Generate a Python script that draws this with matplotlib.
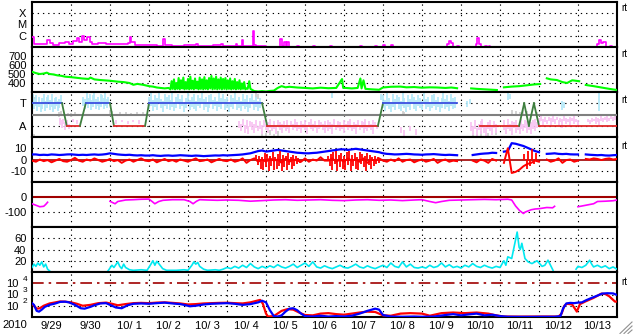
import numpy as np
import matplotlib
matplotlib.use('Agg')
import matplotlib.pyplot as plt
from matplotlib.lines import Line2D

plt.rcParams['font.family'] = ['Liberation Sans', 'DejaVu Sans']
plt.rcParams['font.size'] = 8

nan = np.nan
TS, AS = 2.0, 0.0   # sector levels: Toward / Away

# time axis: days since 2010-09-29 00 UT
day_labels = ['9/29', '9/30', '10/ 1', '10/ 2', '10/ 3', '10/ 4', '10/ 5', '10/ 6',
              '10/ 7', '10/ 8', '10/ 9', '10/10', '10/11', '10/12', '10/13']

# GOES x-ray flux (W/m2)
xray_t = [0.00, 0.05, 0.15, 0.25, 0.38, 0.45, 0.55, 0.70, 0.85, 0.95, 1.05, 1.15, 1.20, 1.28, 1.33,
          1.40, 1.48, 1.55, 1.70, 1.90, 2.10, 2.30, 2.45, 2.50, 2.55, 2.65, 2.80, 3.00, 3.20, 3.35,
          3.40, 3.60, 3.90, 4.20, 4.25, 4.50, 4.65, 4.85, 4.90, 5.00, 5.22, 5.25, 5.38, 5.42, 5.67,
          5.70, 5.75, 6.00, 6.35, 6.40, 6.45, 6.52, 6.55, 6.60, 6.80, 6.85, 7.20, 7.25, 7.50, 7.65,
          7.70, 7.80, 8.40, 8.45, 8.80, 8.85, 9.00, 9.05, 9.20, 9.25, 9.40, 10.65, 10.70, 10.75,
          10.80, 10.90, 10.95, 11.38, 11.42, 11.47, 11.50, 11.62, 11.66, 11.72, 11.75, 14.15, 14.20,
          14.48, 14.55, 14.60, 14.65, 14.72, 14.82, 14.86, 15.00]
xray_f = [8e-7, 2e-7, 1.8e-7, 2e-7, 4.5e-7, 2.2e-7, 1.6e-7, 2.5e-7, 3e-7, 2e-7, 3.5e-7, 6e-7, 3e-7,
          9e-7, 4e-7, 7e-7, 3e-7, 2e-7, 2.2e-7, 1.8e-7, 2e-7, 1.9e-7, 2.5e-7, 7e-7, 3e-7, 1.5e-7,
          1.4e-7, 1.5e-7, 1.3e-7, 5e-7, 1.4e-7, 1.3e-7, 1.4e-7, 2e-7, 1.3e-7, 1.2e-7, 1.4e-7,
          1.7e-7, 1.3e-7, 1.2e-7, 2e-7, 1.2e-7, 4e-7, 1.3e-7, 2.6e-6, 1.5e-7, 1.2e-7, 1.1e-7, 5e-7,
          1.2e-7, 3e-7, 1.3e-7, 3e-7, 1.1e-7, 1.3e-7, 1.1e-7, 1.2e-7, 1.05e-7, 1.05e-7, 1.2e-7,
          1.0e-7, 1.0e-7, 1.2e-7, 1.0e-7, 1.3e-7, 1.0e-7, 1.5e-7, 1.0e-7, 1.5e-7, 9e-8, 7e-8,
          2e-7, 3.4e-7, 2.2e-7, 7e-8, 1.3e-7, 7e-8, 2e-7, 6.5e-7, 2e-7, 7e-8, 1.3e-7, 7e-8, 1.3e-7,
          7e-8, 1.1e-7, 7e-8, 2e-7, 4e-7, 2.5e-7, 3e-7, 7e-8, 1.3e-7, 7e-8, 7e-8]

# solar wind speed (km/s)
wind_t = [0.0, 0.1, 0.2, 0.3, 0.38, 0.45, 0.55, 0.65, 0.75, 0.85, 1.0, 1.1, 1.2, 1.3, 1.45, 1.5, 1.6,
          1.75, 1.9, 2.0, 2.2, 2.35, 2.5, 2.6, 2.7, 2.85, 3.0, 3.1, 3.2, 3.3, 3.4, 3.5,
          3.55, 3.58, 3.61, 3.64, 3.67, 3.70, 3.73, 3.76, 3.79, 3.82, 3.85, 3.88, 3.91, 3.94, 3.97,
          4.00, 4.03, 4.06, 4.09, 4.12, 4.15, 4.18, 4.21, 4.24, 4.27, 4.30, 4.33, 4.36, 4.39, 4.42,
          4.45, 4.48, 4.51, 4.54, 4.57, 4.60, 4.63, 4.66, 4.69, 4.72, 4.75, 4.78, 4.81, 4.84, 4.87,
          4.90, 4.93, 4.96, 4.99, 5.02, 5.05, 5.08, 5.11, 5.14, 5.17, 5.20, 5.23, 5.26, 5.29, 5.32,
          5.35, 5.38, 5.41, 5.44, 5.47, 5.50, 5.53, 5.57, 5.60,
          5.7, 5.8, 5.9, 6.0, 6.1, 6.2, 6.3, 6.4, 6.5, 6.6, 6.8, 7.0, 7.2, 7.4, 7.6, 7.8, 7.95, 7.98,
          8.05, 8.2, 8.35, 8.42, 8.45, 8.5, 8.55, 8.7, 8.9, 9.0, 9.2, 9.45, 9.6, 9.8, 10.0, 10.2,
          10.4, 10.6, 10.75, 10.9, 10.95,
          11.26, 11.4, 11.6, 11.8, 11.92, 11.95,
          12.1, 12.3, 12.5, 12.7, 12.9, 13.03, 13.1,
          13.2, 13.3, 13.46, 13.6, 13.72, 13.85, 14.03, 14.1,
          14.2, 14.4, 14.6, 14.8, 15.0]
wind_v = [525, 510, 500, 505, 515, 500, 495, 485, 480, 470, 465, 460, 455, 450, 445, 460, 440,
          433, 428, 425, 415, 410, 400, 380, 390, 380, 365, 360, 350, 345, 340, 345,
          330, 420, 335, 440, 330, 400, 335, 455, 330, 430, 340, 460, 330, 410, 335,
          445, 330, 470, 335, 425, 330, 450, 340, 415, 330, 460, 335, 440, 330, 465,
          335, 430, 330, 455, 340, 478, 330, 450, 335, 470, 330, 440, 335, 460, 330,
          445, 335, 455, 330, 430, 335, 450, 330, 420, 335, 445, 330, 410, 335, 430,
          330, 395, 335, 410, 330, 340, 335, 420, 335,
          310, 305, 310, 305, 312, 315, 345, 365, 352, 358, 350, 345, 340, 348, 342, 345, 444, 345,
          345, 340, 345, 450, 340, 430, 335, 330, 325, 350, 358, 360, 352, 355, 348, 352,
          350, 345, 350, 342, nan,
          340, 335, 330, 325, 322, nan,
          352, 360, 365, 375, 385, 389, nan,
          452, 440, 433, 410, 400, 430, 420, nan,
          378, 365, 350, 335, 322]

# sector model (T/A) and observed polarity scatter
sector_t = [0, 0.77, 0.89, 1.23, 1.38, 2.0, 2.10, 2.90, 3.0, 5.90, 6.03, 8.87, 9.0, 10.9, nan,
            11.49, 12.49, 12.62, 12.74, 12.87, 13.0, 15.0]
sector_v = [TS, TS, AS, AS, TS, TS, AS, AS, TS, TS, AS, AS, TS, TS, nan,
            AS, AS, TS, AS, TS, AS, AS]

cyan_streaks = [
    (0.02, 2.0, 2.8), (0.06, 1.5, 2.4), (0.10, 1.8, 2.7), (0.14, 1.3, 2.1), (0.18, 1.7, 2.6),
    (0.22, 1.2, 1.9), (0.26, 1.5, 2.5), (0.30, 1.9, 2.8), (0.34, 1.3, 2.2), (0.38, 1.6, 2.6),
    (0.42, 2.0, 2.7), (0.46, 1.4, 2.3), (0.50, 1.7, 2.8), (0.54, 1.2, 2.0), (0.58, 1.5, 2.5),
    (0.62, 1.8, 2.6), (0.66, 1.3, 2.2), (0.70, 1.6, 2.4), (0.74, 1.9, 2.7),
    (1.32, 1.8, 2.6), (1.36, 1.5, 2.4), (1.40, 2.0, 2.9), (1.44, 1.6, 2.5), (1.48, 1.9, 2.8),
    (1.52, 1.4, 2.3), (1.56, 1.7, 2.7), (1.60, 2.1, 2.9), (1.64, 1.5, 2.4), (1.68, 1.8, 2.6),
    (1.72, 1.4, 2.2), (1.76, 1.7, 2.8), (1.80, 2.0, 2.7), (1.84, 1.5, 2.5), (1.88, 1.8, 2.9),
    (1.92, 1.6, 2.4), (1.96, 1.9, 2.6),
    (3.00, 1.5, 2.6), (3.05, 1.8, 2.9), (3.10, 1.3, 2.3), (3.15, 1.7, 2.7), (3.20, 1.4, 2.5),
    (3.25, 2.0, 2.9), (3.30, 1.6, 2.4), (3.35, 1.2, 2.2), (3.40, 1.8, 2.8), (3.45, 1.5, 2.6),
    (3.50, 1.9, 2.7), (3.55, 1.4, 2.3), (3.60, 1.7, 2.9), (3.65, 1.3, 2.1), (3.70, 1.6, 2.6),
    (3.75, 2.0, 2.8), (3.80, 1.5, 2.4), (3.85, 1.8, 2.7), (3.90, 1.2, 2.0), (3.95, 1.6, 2.5),
    (4.00, 1.9, 2.9), (4.05, 1.4, 2.3), (4.10, 1.7, 2.6), (4.15, 1.5, 2.8), (4.20, 1.3, 2.2),
    (4.25, 1.8, 2.7), (4.30, 1.6, 2.5), (4.35, 2.0, 2.9), (4.40, 1.4, 2.4), (4.45, 1.7, 2.6),
    (4.50, 1.2, 2.1), (4.55, 1.6, 2.7), (4.60, 1.9, 2.8), (4.65, 1.5, 2.3), (4.70, 1.8, 2.6),
    (4.75, 1.3, 2.2), (4.80, 1.7, 2.9), (4.85, 1.5, 2.5), (4.90, 2.0, 2.8), (4.95, 1.4, 2.4),
    (5.00, 1.6, 2.6), (5.05, 1.2, 2.0), (5.10, 1.7, 2.7), (5.15, 1.5, 2.5), (5.20, 1.9, 2.9),
    (5.25, 1.4, 2.3), (5.30, 1.6, 2.6), (5.35, 1.3, 2.2), (5.40, 1.8, 2.8), (5.45, 1.5, 2.4),
    (5.50, 1.7, 2.7), (5.55, 1.2, 2.1), (5.60, 1.6, 2.5), (5.65, 1.9, 2.8), (5.70, 1.4, 2.3),
    (5.75, 1.7, 2.6), (5.80, 1.3, 2.2), (5.85, 1.6, 2.5),
    (7.70, 2.5, 2.9), (8.95, 2.3, 2.8),
    (9.00, 1.6, 2.7), (9.05, 1.3, 2.3), (9.10, 1.8, 2.9), (9.15, 1.5, 2.5), (9.20, 1.2, 2.1),
    (9.25, 1.7, 2.8), (9.30, 1.4, 2.4), (9.35, 1.9, 2.7), (9.40, 1.5, 2.6), (9.45, 1.3, 2.2),
    (9.50, 1.8, 2.9), (9.55, 1.6, 2.5), (9.60, 1.2, 2.0), (9.65, 1.7, 2.7), (9.70, 1.4, 2.4),
    (9.75, 2.0, 2.8), (9.80, 1.5, 2.6), (9.85, 1.3, 2.3), (9.90, 1.8, 2.7), (9.95, 1.6, 2.5),
    (10.00, 1.4, 2.2), (10.05, 1.9, 2.9), (10.10, 1.5, 2.4), (10.15, 1.7, 2.6), (10.20, 1.3, 2.1),
    (10.25, 1.6, 2.7), (10.30, 1.8, 2.8), (10.35, 1.4, 2.3), (10.40, 1.7, 2.6), (10.45, 1.2, 2.0),
    (10.50, 1.6, 2.5), (10.55, 1.9, 2.9), (10.60, 1.5, 2.4), (10.65, 1.7, 2.7), (10.70, 1.3, 2.2),
    (10.75, 1.8, 2.8), (10.80, 1.5, 2.5), (10.85, 1.6, 2.6),
    (11.15, 1.7, 2.2), (11.22, 1.9, 2.4), (12.20, 2.3, 2.9), (12.25, 2.4, 2.8),
    (13.58, 1.4, 2.2), (13.65, 1.6, 2.1), (14.55, 1.3, 2.9)]

pink_streaks = [
    (0.72, 0.1, 0.7), (0.76, -0.2, 0.5), (0.80, 0.2, 0.6), (0.85, -0.4, 0.3), (0.90, 0.0, 0.5),
    (0.95, -0.3, 0.2), (1.05, 0.3, 0.6), (1.15, 0.2, 0.5),
    (2.15, 0.2, 0.5), (2.30, 0.3, 0.5), (2.45, 0.2, 0.4), (2.60, 0.3, 0.5), (2.75, 0.2, 0.5),
    (5.30, -0.2, 0.4), (5.35, -0.5, 0.2), (5.40, 0.0, 0.6), (5.45, -0.6, 0.1), (5.50, -0.3, 0.5),
    (5.55, -0.7, 0.0), (5.60, -0.1, 0.4), (5.65, -0.4, 0.3), (5.70, -0.6, 0.2), (5.75, -0.2, 0.5),
    (5.80, -0.5, 0.0), (5.85, -0.3, 0.4), (5.90, -0.7, 0.1), (5.95, -0.1, 0.5), (6.00, -0.4, 0.2),
    (6.05, -0.6, 0.3), (6.10, -0.2, 0.6), (6.15, -0.5, 0.1), (6.20, -0.3, 0.4), (6.25, -0.7, 0.0),
    (6.30, -0.1, 0.5), (6.35, -0.4, 0.3), (6.40, -0.6, 0.2), (6.45, -0.2, 0.4), (6.50, -0.5, 0.1),
    (6.55, -0.3, 0.5), (6.60, -0.6, 0.0), (6.65, -0.1, 0.4), (6.70, -0.4, 0.2), (6.75, -0.2, 0.6),
    (6.80, -0.5, 0.3), (6.85, -0.3, 0.1), (6.90, -0.6, 0.4), (6.95, -0.2, 0.2), (7.00, -0.4, 0.5),
    (7.05, -0.7, 0.1), (7.10, -0.1, 0.3), (7.15, -0.3, 0.6), (7.20, -0.5, 0.2), (7.25, -0.2, 0.4),
    (7.30, -0.6, 0.0), (7.35, -0.3, 0.5), (7.40, -0.1, 0.3), (7.45, -0.4, 0.2), (7.50, -0.6, 0.4),
    (7.55, -0.2, 0.1), (7.60, -0.5, 0.5), (7.65, -0.3, 0.3), (7.70, -0.7, 0.2), (7.75, -0.1, 0.6),
    (7.80, -0.4, 0.1), (7.85, -0.2, 0.4), (7.90, -0.5, 0.3), (7.95, -0.3, 0.0), (8.00, -0.6, 0.5),
    (8.05, -0.1, 0.2), (8.10, -0.4, 0.4), (8.15, -0.2, 0.6), (8.20, -0.5, 0.1), (8.25, -0.3, 0.3),
    (8.30, -0.7, 0.2), (8.35, -0.1, 0.5), (8.40, -0.4, 0.0), (8.45, -0.2, 0.4), (8.50, -0.6, 0.3),
    (8.55, -0.3, 0.6), (8.60, -0.5, 0.1), (8.65, -0.2, 0.4), (8.70, -0.4, 0.2), (8.75, -0.7, 0.5),
    (8.80, -0.1, 0.3), (8.85, -0.3, 0.1),
    (9.45, -0.6, -0.1), (9.55, -0.9, -0.4), (9.70, -0.5, 0.0), (9.85, -0.8, -0.3),
    (11.25, -0.5, 0.3), (11.30, -0.8, 0.0), (11.35, -0.3, 0.5), (11.40, -0.9, -0.2),
    (11.45, -0.4, 0.2), (11.50, -0.7, 0.4), (11.55, -0.2, 0.6), (11.60, -0.6, 0.1),
    (11.65, -0.9, -0.1), (11.70, -0.3, 0.3), (11.75, -0.5, 0.5), (11.80, -0.8, 0.0),
    (11.85, -0.2, 0.4), (11.90, -0.6, 0.2), (12.10, -0.4, 0.5), (12.15, -0.7, 0.1),
    (12.20, -0.3, 0.6), (12.25, -0.5, 0.2), (12.30, -0.8, 0.4), (12.35, -0.2, 0.3),
    (12.40, -0.6, 0.5), (12.45, -0.4, 0.1), (12.50, -0.7, 0.3), (12.55, -0.3, 0.6),
    (12.60, -0.5, 0.2), (12.65, -0.2, 0.5), (12.70, -0.6, 0.4), (12.75, -0.4, 0.1),
    (12.80, -0.7, 0.3), (12.85, -0.3, 0.5), (12.90, -0.5, 0.6), (12.95, -0.2, 0.3),
    (13.00, 0.2, 0.7), (13.05, 0.4, 0.9), (13.10, 0.1, 0.6), (13.15, 0.3, 0.8), (13.20, 0.2, 0.5),
    (13.25, 0.4, 0.8), (13.30, 0.1, 0.7), (13.35, 0.3, 0.9), (13.40, 0.2, 0.6), (13.45, 0.5, 0.8),
    (13.50, 0.1, 0.5), (13.55, 0.3, 0.7), (13.60, -0.2, 0.6), (13.65, 0.4, 0.9), (13.70, 0.2, 0.7),
    (13.75, 0.3, 0.6), (13.80, 0.1, 0.8), (13.85, 0.4, 0.7), (13.90, 0.2, 0.9), (13.95, 0.3, 0.6),
    (14.00, 0.1, 0.5), (14.25, 0.3, 0.6), (14.30, 0.2, 0.5), (14.35, 0.3, 0.7), (14.40, 0.4, 0.6),
    (14.45, 0.2, 0.8), (14.50, 0.3, 0.7), (14.55, 0.1, 0.6), (14.60, 0.4, 0.9), (14.65, 0.3, 0.7),
    (14.70, 0.5, 0.8), (14.75, 0.3, 0.9), (14.80, 0.4, 0.7), (14.85, 0.6, 0.9), (14.90, 0.4, 0.8),
    (14.95, 0.5, 0.9)]

grey_streaks = [
    (0.02, 2.3, 2.7), (0.05, -1.0, -0.7), (0.08, 2.4, 2.6), (0.68, 0.8, 1.2), (0.74, 0.9, 1.3),
    (0.92, 0.9, 1.1), (1.00, 0.8, 1.1), (1.10, 0.9, 1.2), (1.20, 0.85, 1.05), (2.00, 1.0, 1.4),
    (2.05, 1.1, 1.3), (2.25, 0.9, 1.2), (2.40, 1.0, 1.25), (2.55, 0.9, 1.15), (2.70, 1.0, 1.2),
    (2.85, 0.95, 1.2), (5.75, 2.5, 2.9), (5.80, 2.4, 2.8), (5.90, -0.9, -0.5), (6.00, -1.0, -0.6),
    (6.10, -0.8, -0.4), (6.20, -1.0, -0.7), (6.30, -0.9, -0.5), (9.50, 0.9, 1.3), (9.55, 1.0, 1.2),
    (11.30, -1.0, -0.6), (11.40, -1.0, -0.7), (11.50, -0.9, -0.5), (11.70, -1.0, -0.6),
    (11.90, -0.8, -0.4), (12.30, 0.9, 1.4), (12.40, 1.0, 1.3), (12.50, 0.9, 1.2), (12.60, 1.0, 1.4),
    (12.70, 0.95, 1.3), (12.95, 0.8, 1.2)]

# IMF: sampled every 0.1 day
imf_dt = 0.1
bt = [4.5, 4.5, 4.0, 4.2, 4.0, 4.5, 4.3, 4.0, 4.2, 4.5,
      4.6, 4.3, 4.0, 4.2, 4.0, 4.3, 4.5, 4.2, 4.4, 4.8,
      5.5, 5.0, 4.5, 4.2, 4.0, 4.2, 3.8, 3.6, 3.8, 3.5,
      3.5, 3.8, 3.4, 3.2, 3.5, 3.6, 3.3, 3.5, 3.8, 3.6,
      3.4, 3.2, 3.5, 3.3, 3.0, 3.2, 3.4, 3.6, 3.5, 3.8,
      3.6, 3.8, 4.0, 4.2, 4.5, 5.0, 5.5, 6.5, 7.5, 8.0,
      7.0, 7.5, 8.0, 8.5, 8.0, 7.5, 7.0, 6.5, 6.0, 5.8,
      5.5, 5.5, 5.8, 6.0, 6.5, 7.0, 7.5, 8.0, 8.5, 9.0,
      9.0, 8.5, 9.0, 9.5, 9.0, 8.5, 8.0, 7.5, 7.0, 6.5,
      5.5, 5.0, 4.8, 4.5, 4.6, 4.8, 5.0, 4.8, 4.5, 4.4,
      4.2, 4.5, 4.6, 4.8, 4.5, 4.2, 4.0, 4.2, 4.0, 3.8,
      nan, nan, nan, 4.0, 4.5, 5.0, 5.3, 5.5, 6.0, 5.8,
      nan, 7.0, 7.5, 14.5, 14.0, 13.0, 12.0, 10.5, 9.0, 7.5,
      6.5, nan, 5.0, 5.2, 5.5, 5.0, 4.8, 5.0, 4.6, 4.5,
      4.5, nan, 4.5, 4.2, 4.0, 3.8, 4.0, 3.6, 3.5, 3.8, 4.0]
bz = [-1, -2, 0, -1.5, -0.5, -2.5, -1, 0.5, -1.5, -2,
      -0.5, 1.5, -1, -2, 0, -1, 1, -0.5, -2, -1,
      0.5, -1.5, -0.5, -3, -1, 0, -2, -0.5, 1, -1,
      -1.5, 0, -2.5, -1, 0.5, -1.5, -0.5, -2, 0, -1,
      -2, -0.5, 1, -1.5, -1, 0, -2.5, -1, 0.5, -1,
      -1.5, 0, -2, -1, 1, -3, -0.5, 1, -2, 0,
      -2, 1, -1, 0, -3, 1, -2, 0, -1, -2,
      1, -2, 0, -1, 2, -1, -1, 1, -2, 0,
      -2, 1, -1, 0, -2, 1, -3, 0, -1, 1,
      -1, -2, 0, -1.5, 1, -2, -0.5, 0, -2.5, -1,
      0, -2, -1, 0.5, -3, -1, 0, -2, -1, -1.5,
      nan, nan, nan, -1, -2.5, 0, -1, -3, 0.5, -1,
      nan, -3, 10, -12, -11, -9, -6, -4, -3, -1,
      -2, nan, 0, -2, -1, 1, -3, -0.5, 0, -2,
      -1, nan, 0.5, 0, 1, 0.5, -0.5, 0.5, 1, 0, 0.5]
# short Bz excursions during the disturbed intervals
bz_spike_t = [5.75, 5.80, 5.83, 5.87, 5.90, 5.93, 5.97, 6.00, 6.03, 6.07, 6.10, 6.13, 6.17, 6.20,
              6.23, 6.27, 6.30, 6.33, 6.37, 6.40, 6.43, 6.47, 6.50, 6.53, 6.57, 6.60, 6.63, 6.67,
              6.70, 6.73, 6.77, 6.80, 6.83, 6.87,
              7.60, 7.63, 7.67, 7.70, 7.73, 7.77, 7.80, 7.83, 7.87, 7.90, 7.93, 7.97, 8.00, 8.03,
              8.07, 8.10, 8.13, 8.17, 8.20, 8.23, 8.27, 8.30, 8.33, 8.37, 8.40, 8.43, 8.47, 8.50,
              8.53, 8.57, 8.60, 8.63, 8.67, 8.70, 8.73, 8.77, 8.80, 8.83, 8.87, 8.90,
              12.62, 12.68, 12.72, 12.78, 12.83, 12.88, 12.93]
bz_spike_v = [4, -5, 3, -8, 2, -9, 6, -7, 5, -10, 3, -6, 7, -9,
              2, -8, 5, -6, 8, -10, 4, -7, 3, -9, 6, -5, 2, -8,
              4, -6, 3, -4, 1, -3,
              3, -6, 5, -9, 7, -4, 8, -10, 4, -7, 6, -8, 3, -9,
              7, -5, 8, -10, 4, -6, 6, -8, 2, -9, 7, -4, 5, -7,
              3, -10, 6, -5, 4, -8, 2, -6, 3, -4, 2, -3,
              5, -8, 8, -6, 9, -4, 6]

# Dst (nT)
dst_t = [0.0, 0.1, 0.2, 0.3, 0.35, 0.4, 0.42, 2.0, 2.13, 2.2, 2.4, 2.6, 2.8, 3.0, 3.08, 3.15, 3.25,
         3.36, 3.6, 3.9, 4.05, 4.13, 4.22, 4.3, 4.5, 4.75, 5.0, 5.3, 5.6, 5.9, 6.2, 6.5, 6.8, 7.1,
         7.4, 7.7, 8.0, 8.3, 8.6, 8.9, 9.2, 9.5, 9.8, 10.0, 10.2, 10.35, 10.5, 10.7, 11.0, 11.3,
         11.6, 11.9, 12.2, 12.3, 12.4, 12.5, 12.6, 12.65, 12.8, 12.9, 13.0, 13.2, 13.35, 13.4,
         13.45, 14.0, 14.2, 14.4, 14.5, 14.7, 14.9, 15.0]
dst_v = [-45, -55, -65, -62, -50, -35, nan, -29, -45, -30, -20, -18, -15, -14, -30, -45, -30,
         -22, -18, -18, -30, -45, -28, -18, -20, -22, -20, -22, -28, -24, -20, -18, -22, -20,
         -18, -22, -24, -20, -18, -22, -20, -24, -20, -18, -30, -38, -30, -22, -20, -18,
         -16, -18, -15, -20, -60, -90, -110, -100, -85, -80, -78, -70, -72, -62, nan,
         -65, -55, -45, -30, -28, -25, -20]

# proton density (cm-3)
dens_t = [0.0, 0.05, 0.1, 0.15, 0.2, 0.25, 0.3, 0.35, 0.4, 0.45, 0.5, 1.95, 2.05, 2.1, 2.2, 2.25,
          2.3, 2.35, 2.4, 2.5, 2.6, 2.8, 2.95, 3.05, 3.1, 3.15, 3.2, 3.25, 3.35, 3.45, 3.7, 3.9, 4.0,
          4.1, 4.15, 4.2, 4.25, 4.3, 4.4, 4.5, 4.7, 4.8, 4.9, 5.0, 5.1, 5.2, 5.3, 5.4, 5.5, 5.6, 5.7,
          5.8, 5.9, 6.0, 6.1, 6.2, 6.3, 6.4, 6.5, 6.6, 6.7, 6.8, 6.9, 7.0, 7.1, 7.2, 7.3, 7.4, 7.5,
          7.6, 7.7, 7.8, 7.9, 8.0, 8.1, 8.2, 8.3, 8.4, 8.5, 8.6, 8.7, 8.8, 8.9, 9.0, 9.1, 9.2, 9.3,
          9.4, 9.5, 9.6, 9.7, 9.8, 9.9, 10.0, 10.1, 10.2, 10.3, 10.4, 10.5, 10.6, 10.7, 10.8, 10.9,
          11.0, 11.1, 11.2, 11.3, 11.4, 11.5, 11.6, 11.7, 11.8, 11.9, 12.0, 12.1, 12.15, 12.2,
          12.3, 12.44, 12.49, 12.52, 12.56, 12.64, 12.72, 12.82, 12.95, 13.08, 13.15, 13.23,
          13.36, 13.4, 13.95, 14.0, 14.1, 14.2, 14.3, 14.35, 14.4, 14.5, 14.6, 14.7, 14.8, 14.9,
          15.0]
dens_v = [8, 14, 10, 16, 12, 18, 9, 14, 5, 2, nan, 2, 12, 8, 18, 10,
          6, 14, 8, 4, 3, 4, 3, 14, 20, 12, 19, 15, 6, 3, 3, 4, 3,
          12, 18, 14, 17, 10, 5, 3, 4, 3, 5, 8, 6, 10, 7, 12, 8, 15, 9,
          6, 10, 7, 11, 8, 13, 9, 7, 10, 14, 8, 12, 16, 10, 18, 9, 7, 11,
          8, 6, 9, 12, 8, 7, 10, 14, 9, 7, 11, 8, 6, 9, 12, 8, 16, 10,
          8, 18, 9, 14, 8, 7, 9, 7, 12, 8, 10, 16, 9, 13, 8, 10,
          7, 12, 9, 15, 10, 8, 12, 9, 7, 10, 8, 20, 12, 27,
          24, 71, 44, 40, 51, 24, 18, 15, 20, 10, 12, 21,
          3, nan, 5, 10, 8, 12, 21, 14, 9, 12, 8, 11, 6, 9,
          5]

# >2 MeV electron flux (GOES-11 red, GOES-13 blue)
e_red_t = [0.0, 0.05, 0.12, 0.2, 0.3, 0.45, 0.6, 0.72, 0.85, 1.0, 1.15, 1.3, 1.5, 1.7, 1.9, 2.05,
           2.2, 2.4, 2.6, 2.8, 3.0, 3.2, 3.4, 3.6, 3.8, 4.0, 4.2, 4.4, 4.6, 4.8, 5.0, 5.2, 5.4, 5.6,
           5.8, 5.85, 5.92, 6.0, 6.05, 6.2, 6.4, 6.55, 6.7, 6.85, 7.0, 7.2, 7.4, 7.6, 7.8, 8.0, 8.2,
           8.4, 8.6, 8.8, 9.0, 9.2, 9.45, 9.7, 10.0, 10.2, 10.5, 10.8, 11.1, 11.4, 11.7, 11.9, 12.1,
           12.5, 13.0, 13.5, 13.58, 13.65, 13.72, 13.85, 13.97, 14.05, 14.2, 14.4, 14.6, 14.7,
           14.8, 14.95, 15.0]
e_red_f = [150, 100, 55, 60, 100, 160, 200, 240, 230, 200, 150, 100, 120, 170, 190, 150,
           110, 140, 170, 180, 170, 190, 200, 180, 160, 130, 140, 160, 170, 180, 185, 170, 160, 200,
           300, 330, 150, 20, 11, 12, 35, 50, 45, 25, 15, 14, 20, 22, 18, 16, 20,
           25, 30, 28, 14, 13, 20, 22, 20, 13, 22, 25, 22, 25, 20, 14, 11,
           10.8, 11, 11, 20, 100, 150, 130, 30, 140, 250, 500, 1200, 1100,
           700, 230, 240]
e_blue_t = [0.0, 0.05, 0.12, 0.18, 0.25, 0.33, 0.45, 0.6, 0.72, 0.85, 0.95, 1.1, 1.25, 1.35, 1.5,
            1.6, 1.75, 1.9, 2.0, 2.15, 2.3, 2.45, 2.6, 2.8, 3.0, 3.2, 3.4, 3.6, 3.8, 3.9, 4.05, 4.2,
            4.4, 4.6, 4.8, 5.0, 5.2, 5.4, 5.6, 5.8, 5.9, 6.0, 6.1, 6.2, 6.3, 6.4, 6.5, 6.6, 6.7,
            6.8, 6.9, 7.0, 7.2, 7.4, 7.6, 7.8, 8.0, 8.2, 8.4, 8.6, 8.8, 8.9, 9.0, 9.2, 9.5, 9.8,
            10.0, 10.3, 10.6, 10.8, 11.0, 11.2, 11.4, 11.6, 11.8, 12.0, 12.2, 12.5, 12.8, 13.1,
            13.4, 13.55, 13.62, 13.7, 13.8, 13.9, 14.0, 14.1, 14.2, 14.35, 14.5, 14.62, 14.75,
            14.9, 15.0]
e_blue_f = [170, 120, 35, 30, 45, 80, 120, 160, 220, 230, 200, 120, 60, 55, 80,
            110, 160, 170, 120, 70, 60, 110, 150, 160, 150, 170, 190, 160, 140, 120, 90, 100,
            130, 150, 160, 170, 150, 120, 140, 200, 280, 200, 40, 12, 11, 14, 30, 55, 60,
            40, 20, 12, 11, 13, 11, 12, 11, 13, 20, 35, 55, 45, 15, 11, 10.5, 11,
            10.5, 11, 15, 18, 14, 17, 20, 14, 16, 12, 10.5, 10.3, 10.3, 10.5,
            10.5, 12, 60, 160, 180, 170, 190, 200, 300, 500, 800, 1200, 1300,
            1250, 900]
e_exps = [2, 3, 4]

W, H = 633, 334
fig = plt.figure(figsize=(W / 100, H / 100), dpi=100)
DOT = (0, (1.2, 3.5))


def make_panel(i, ylim, yticks, ylabels, grid, log=False, pad=4):
    ax = fig.add_axes([32 / W, 1 - (47 + 45 * i) / H, 585 / W, 45 / H])
    if log:
        ax.set_yscale('log')
    ax.set_xlim(0, 15)
    ax.set_ylim(*ylim)
    ax.set_xticks([])
    ax.set_yticks(yticks)
    ax.set_yticklabels(ylabels)
    ax.minorticks_off()
    ax.tick_params(axis='y', length=0, pad=pad, labelsize=8)
    for d in range(1, 15):
        ax.axvline(d, color='k', lw=0.8, ls=DOT, zorder=1)
    for g in grid:
        ax.axhline(g, color='k', lw=0.8, ls=DOT, zorder=1)
    for s in ax.spines.values():
        s.set_linewidth(1.5)
    return ax


def streaks(ax, data, color):
    t, lo, hi = zip(*data)
    ax.vlines(t, lo, hi, colors=color, lw=1.3, zorder=2)


# 1: x-ray
ax1 = make_panel(0, (1e-7, 1e-3), [1e-6, 1e-5, 1e-4], ['C', 'M', 'X'], [1e-6, 1e-5, 1e-4], log=True)
ax1.plot(xray_t, xray_f, color='#ff00ff', lw=1.2, drawstyle='steps-post', zorder=3)

# 2: wind speed
ax2 = make_panel(1, (300, 800), [400, 500, 600, 700], ['400', '500', '600', '700'], [400, 500, 600, 700])
ax2.plot(wind_t, wind_v, color='#00ff00', lw=1.5, zorder=3)

# 3: sector polarity
ax3 = make_panel(2, (-1, 3), [AS, TS], ['A', 'T'], [AS, TS])
streaks(ax3, grey_streaks, '#d0d0d0')
streaks(ax3, pink_streaks, '#f9c4f2')
streaks(ax3, cyan_streaks, '#b4e8f8')
ax3.axhline(1, color='#808080', lw=1.5, zorder=3)
for k in range(len(sector_t) - 1):
    t0, t1 = sector_t[k], sector_t[k + 1]
    v0, v1 = sector_v[k], sector_v[k + 1]
    if np.isnan(v0) or np.isnan(v1):
        continue
    if v0 != v1:
        c = '#3f7f3f'
    elif v0 == TS:
        c = '#3c50e0'
    else:
        c = '#e02828'
    ax3.plot([t0, t1], [v0, v1], color=c, lw=1.3, zorder=4)

# 4: IMF
imf_t = np.arange(len(bt)) * imf_dt
ax4 = make_panel(3, (-20, 20), [-10, 0, 10], ['-10', '0', '10'], [-10, 10])
ax4.axhline(0, color='#a00000', lw=1.2, zorder=2)
ax4.plot(imf_t, bt, color='#0000ff', lw=1.6, zorder=3)
ax4.plot(imf_t, bz, color='#ff0000', lw=1.4, zorder=4)
ax4.vlines(bz_spike_t, 0, bz_spike_v, colors='#ff0000', lw=1.3, zorder=4)

# 5: Dst
ax5 = make_panel(4, (-200, 100), [-100, 0], ['-100', '0'], [-100])
ax5.axhline(0, color='#a00000', lw=1.5, zorder=2)
ax5.plot(dst_t, dst_v, color='#ff00ff', lw=1.2, zorder=3)

# 6: density
ax6 = make_panel(5, (0, 80), [20, 40, 60], ['20', '40', '60'], [20, 40, 60])
ax6.plot(dens_t, dens_v, color='#00e8f0', lw=1.2, zorder=3)

# 7: electrons
ax7 = make_panel(6, (1e1, 1e5), [10.0 ** e for e in e_exps], ['10'] * len(e_exps),
                 [1e2, 1e3], log=True, pad=10)
for e in e_exps:
    ax7.annotate(str(e), xy=(0, 10.0 ** e), xycoords=('axes fraction', 'data'),
                 xytext=(-9, 4), textcoords='offset pixels', fontsize=6,
                 ha='left', va='center', annotation_clip=False)
ax7.axhline(1e4, color='#a00000', lw=1.2, ls=(0, (7, 3, 1.5, 3)), zorder=2)
ax7.plot(e_red_t, e_red_f, color='#ff0000', lw=1.6, zorder=3)
ax7.plot(e_blue_t, e_blue_f, color='#0000ff', lw=1.6, zorder=4)
ax7.set_xticks(np.arange(15) + 0.5)
ax7.set_xticklabels(day_labels)
ax7.tick_params(axis='x', length=0, pad=3, labelsize=8)

fig.text(15 / W, 1 - 325 / H, '2010', ha='center', va='center', fontsize=8)
for y in [8, 54, 100, 146, 282]:
    fig.text(621 / W, 1 - y / H, 'rt', ha='left', va='center', fontsize=7)

# resize grip in the corner
for k in [4, 8, 12]:
    fig.add_artist(Line2D([(W - 1) / W, (W - 1 - k) / W], [k / H, 0.5 / H],
                          transform=fig.transFigure, color='#909090', lw=0.8))

fig.savefig('out.png', dpi=100)
